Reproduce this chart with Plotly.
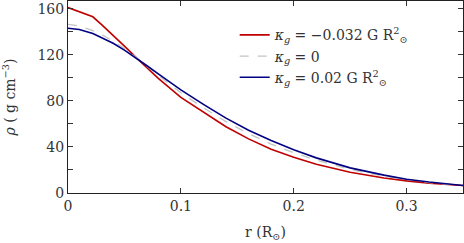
import plotly.graph_objects as go

r = [0, 0.01, 0.022, 0.03, 0.04, 0.05, 0.06, 0.07, 0.08, 0.1, 0.12, 0.14,
     0.16, 0.18, 0.2, 0.22, 0.25, 0.28, 0.3, 0.32, 0.35]
rho_neg = [161, 157.5, 153, 146, 137, 127.5, 118, 108.5, 99.5, 83, 70, 57.5,
           47, 38, 31, 25, 18, 13, 10.5, 8.5, 6.5]
rho_zero = [146.5, 145, 141, 137.5, 132, 125.5, 118, 110, 102, 87, 74, 62,
            51.5, 42.5, 35, 28.5, 20.5, 14.5, 11.5, 9, 6.5]
rho_pos = [143, 142, 138.5, 135, 130, 124, 117.5, 110.5, 103.5, 89.5, 77, 65,
           54.5, 45.5, 37.5, 30.5, 21.8, 15.5, 12, 9.5, 6.5]

names = ["<i>κ<sub>g</sub></i> = −0.032 G R<sup>2</sup><sub>⊙</sub>",
         "<i>κ<sub>g</sub></i> = 0",
         "<i>κ<sub>g</sub></i> = 0.02 G R<sup>2</sup><sub>⊙</sub>"]

font = "DejaVu Serif"
fig = go.Figure()
fig.add_trace(go.Scatter(x=r, y=rho_neg, mode="lines", name=names[0],
                         line=dict(color="#c00000", width=1.6)))
fig.add_trace(go.Scatter(x=r, y=rho_zero, mode="lines", name=names[1],
                         line=dict(color="#c4c4c4", width=1.3, dash="dash")))
fig.add_trace(go.Scatter(x=r, y=rho_pos, mode="lines", name=names[2],
                         line=dict(color="#000080", width=1.6)))

fig.update_layout(
    width=464, height=243,
    margin=dict(l=68, r=1, t=1, b=50, autoexpand=False),
    paper_bgcolor="white", plot_bgcolor="white",
    font=dict(family=font, size=14, color="#333"),
    showlegend=True,
    legend=dict(x=0.422, y=0.905, xanchor="left", yanchor="top",
                bgcolor="rgba(0,0,0,0)", font=dict(family=font, size=14, color="#333"),
                tracegroupgap=0, itemwidth=30),
)
fig.update_xaxes(
    range=[0, 0.35], tickvals=[0, 0.1, 0.2, 0.3], ticktext=["0", "0.1", "0.2", "0.3"],
    ticks="inside", ticklen=5, tickcolor="#333", showline=True, linecolor="#222",
    linewidth=1, mirror="ticks", showgrid=False, zeroline=False, automargin=False,
    tickfont=dict(family=font, size=14, color="#333"),
    title=dict(text="r (R<sub>⊙</sub>)", font=dict(family=font, size=14), standoff=14),
)
fig.update_yaxes(
    range=[0, 166.7], tickvals=[0, 40, 80, 120, 160],
    ticks="inside", ticklen=5, tickcolor="#333", showline=True, linecolor="#222",
    linewidth=1, mirror="ticks", showgrid=False, zeroline=False, automargin=False,
    tickfont=dict(family=font, size=14, color="#333"),
    minor=dict(tickvals=[20, 60, 100, 140], ticks="inside", ticklen=5, tickcolor="#333"),
    title=dict(text="<i>ρ</i> ( g cm<sup>−3</sup>)", font=dict(family=font, size=14), standoff=24),
)

fig.write_html("out.html", config={"displayModeBar": False},
               post_script="document.body.style.margin='0';document.body.style.overflow='hidden';")
